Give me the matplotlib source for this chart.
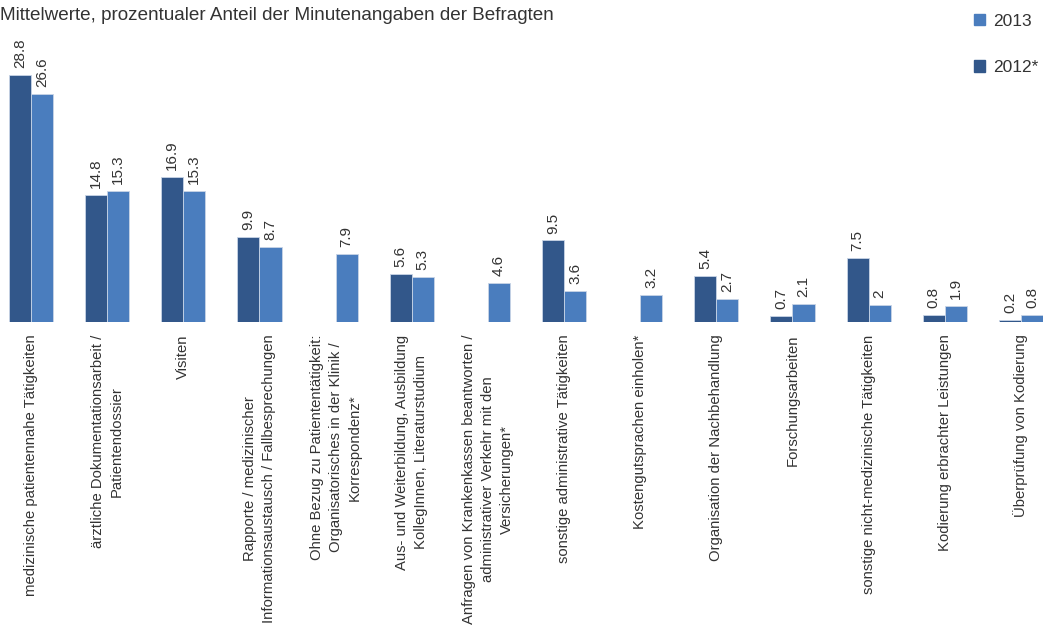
import numpy as np
import matplotlib
matplotlib.use("Agg")
import matplotlib.pyplot as plt
from matplotlib.patches import Patch

plt.rcParams['font.family'] = ['Liberation Sans', 'DejaVu Sans']

# Kategorien (Zeilenumbrueche wie im Original)
kategorien = [
    "medizinische patientennahe Tätigkeiten",
    "ärztliche Dokumentationsarbeit /\nPatientendossier",
    "Visiten",
    "Rapporte / medizinischer\nInformationsaustausch / Fallbesprechungen",
    "Ohne Bezug zu Patiententätigkeit:\nOrganisatorisches in der Klinik /\nKorrespondenz*",
    "Aus- und Weiterbildung, Ausbildung\nKollegInnen, Literaturstudium",
    "Anfragen von Krankenkassen beantworten /\nadministrativer Verkehr mit den\nVersicherungen*",
    "sonstige administrative Tätigkeiten",
    "Kostengutsprachen einholen*",
    "Organisation der Nachbehandlung",
    "Forschungsarbeiten",
    "sonstige nicht-medizinische Tätigkeiten",
    "Kodierung erbrachter Leistungen",
    "Überprüfung von Kodierung",
]
werte_2012 = [28.8, 14.8, 16.9, 9.9, np.nan, 5.6, np.nan, 9.5, np.nan, 5.4, 0.7, 7.5, 0.8, 0.2]
werte_2013 = [26.6, 15.3, 15.3, 8.7, 7.9, 5.3, 4.6, 3.6, 3.2, 2.7, 2.1, 2, 1.9, 0.8]

farbe_2012 = "#32578a"
farbe_2013 = "#4a7dbe"
textfarbe = "#333333"


def fmt(v):
    return ("%g" % v)


fig = plt.figure(figsize=(10.43, 6.25), dpi=100)
ax = fig.add_axes([0, 1 - 322 / 625, 1, 322 / 625])

x = np.arange(len(kategorien))
breite = 0.29

ax.bar(x - breite / 2, werte_2012, breite, color=farbe_2012,
       edgecolor="#c8d4e6", linewidth=0.6)
ax.bar(x + breite / 2, werte_2013, breite, color=farbe_2013,
       edgecolor="#c8d4e6", linewidth=0.6)

for xi, v in zip(x - breite / 2, werte_2012):
    if not np.isnan(v):
        ax.annotate(fmt(v), (xi, v), xytext=(0, 5), textcoords="offset points",
                    rotation=90, ha="center", va="bottom", fontsize=11, color=textfarbe)
for xi, v in zip(x + breite / 2, werte_2013):
    ax.annotate(fmt(v), (xi, v), xytext=(0, 5), textcoords="offset points",
                rotation=90, ha="center", va="bottom", fontsize=11, color=textfarbe)

ax.set_xlim(-0.407, 13.29)
ax.set_ylim(0, 322 / 8.58)
ax.set_xticks(x)
ax.set_xticklabels(kategorien, rotation=90, ha="center", va="top",
                   multialignment="center", fontsize=10.7, color=textfarbe,
                   linespacing=1.45)
ax.tick_params(axis="x", length=0, pad=9)
ax.set_yticks([])
for s in ax.spines.values():
    s.set_visible(False)
ax.patch.set_alpha(0)

fig.text(0.0, 1 - 15 / 625, "Mittelwerte, prozentualer Anteil der Minutenangaben der Befragten",
         ha="left", va="center", fontsize=13.6, color=textfarbe)

handles = [Patch(color=farbe_2013, label="2013"), Patch(color=farbe_2012, label="2012*")]
fig.legend(handles=handles, loc="upper left", bbox_to_anchor=(958 / 1043, 1 + 2 / 625),
           frameon=False, fontsize=12.5, handlelength=0.65, handleheight=0.65,
           handletextpad=0.5, labelspacing=1.8, labelcolor=textfarbe)

fig.savefig("out.png", dpi=100)
